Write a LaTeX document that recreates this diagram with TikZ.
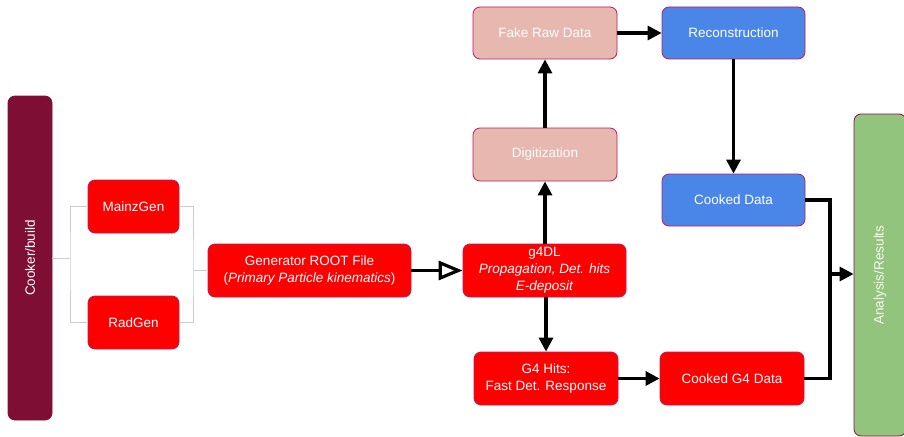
\documentclass[tikz,border=0pt]{standalone}
\usepackage{fontspec}
\setmainfont{Liberation Sans}
\usetikzlibrary{arrows.meta}
\definecolor{crimson}{HTML}{7F0E35}
\definecolor{boxred}{HTML}{FF0000}
\definecolor{boxpink}{HTML}{E6B8AF}
\definecolor{boxblue}{HTML}{4A86E8}
\definecolor{boxgreen}{HTML}{93C47D}
\definecolor{rim}{HTML}{C2185B}
\definecolor{bracket}{HTML}{CCCCCC}
\tikzset{
  card/.style={rounded corners=7pt, draw=rim, line width=0.8pt, text=white,
    font=\fontsize{13.5}{17}\selectfont, align=center, inner sep=0pt},
  redcard/.style={card, fill=boxred},
  pinkcard/.style={card, fill=boxpink, text=white!97!boxpink},
  bluecard/.style={card, fill=boxblue},
  flow/.style={line width=3.2pt, -{Triangle[length=14pt,width=14pt]}},
  openflow/.style={line width=3.2pt, -{Triangle[open,length=24pt,width=19pt,line width=3.2pt]}},
  link/.style={line width=3.2pt},
  brace/.style={draw=bracket, line width=0.9pt}
}
\begin{document}
\begin{tikzpicture}[x=1pt,y=-1pt]
\useasboundingbox (0,0) rectangle (904,436);

% side bars
\node[card, fill=crimson, draw=crimson, minimum width=44pt, minimum height=324pt] (cook) at (30,258) {};
\node[rotate=90, text=white, font=\fontsize{13.5}{15}\selectfont] (cooklbl) at (cook.center) {Cooker/build};
\node[card, fill=boxgreen, draw=rim!70!black, minimum width=52pt, minimum height=322pt] (ana) at (880,275) {};
\node[rotate=90, text=white!92!boxgreen, font=\fontsize{13.5}{15}\selectfont] (analbl) at (ana.center) {Analysis/Results};

% generators
\node[redcard, minimum width=91pt, minimum height=53pt] (mainz) at (133.5,206.5) {MainzGen};
\node[redcard, minimum width=91pt, minimum height=53pt] (rad) at (133.5,322.5) {RadGen};
\node[redcard, minimum width=203pt, minimum height=53pt] (gen) at (309.5,270.5)
  {Generator ROOT File\\(\textit{Primary Particle kinematics})};

% simulation chain
\node[redcard, minimum width=163pt, minimum height=53pt] (g4dl) at (544.5,270.5)
  {g4DL\\\textit{Propagation, Det. hits}\\\textit{E-deposit}};
\node[pinkcard, minimum width=144pt, minimum height=53pt] (digi) at (545,154.5) {Digitization};
\node[pinkcard, minimum width=144pt, minimum height=52pt] (fake) at (545,33) {Fake Raw Data};
\node[bluecard, minimum width=143pt, minimum height=52pt] (reco) at (733.5,33) {Reconstruction};
\node[bluecard, minimum width=143pt, minimum height=52pt] (cooked) at (733.5,200) {Cooked Data};
\node[redcard, minimum width=144pt, minimum height=53pt] (hits) at (546,378.5) {G4 Hits:\\Fast Det. Response};
\node[redcard, minimum width=144pt, minimum height=53pt] (cg4) at (732,378.5) {Cooked G4 Data};

% bracket between the build bar and the generators
\coordinate (bl) at (70,258);
\coordinate (br) at (193,270.5);
\draw[brace] (cook.east |- bl) -- (bl);
\draw[brace] (mainz.west) -| (bl) |- (rad.west);
\draw[brace] (mainz.east) -| (br) |- (rad.east);
\draw[brace] (br) -- (gen.west);

% data flow
\draw[openflow] (gen.east) -- (g4dl.west);
\draw[flow] (g4dl.north -| digi) -- (digi.south);
\draw[flow] (digi.north) -- (fake.south);
\draw[flow] (fake.east) -- (reco.west);
\draw[flow] (reco.south) -- (cooked.north);
\draw[flow] (g4dl.south -| hits) -- (hits.north);
\draw[flow] (hits.east) -- (cg4.west);

% merge into analysis
\coordinate (mj) at (830,274);
\draw[link, line join=miter] (cooked.east) -| (mj) |- (cg4.east);
\draw[flow] (mj) -- (mj -| ana.west);
\end{tikzpicture}
\end{document}
